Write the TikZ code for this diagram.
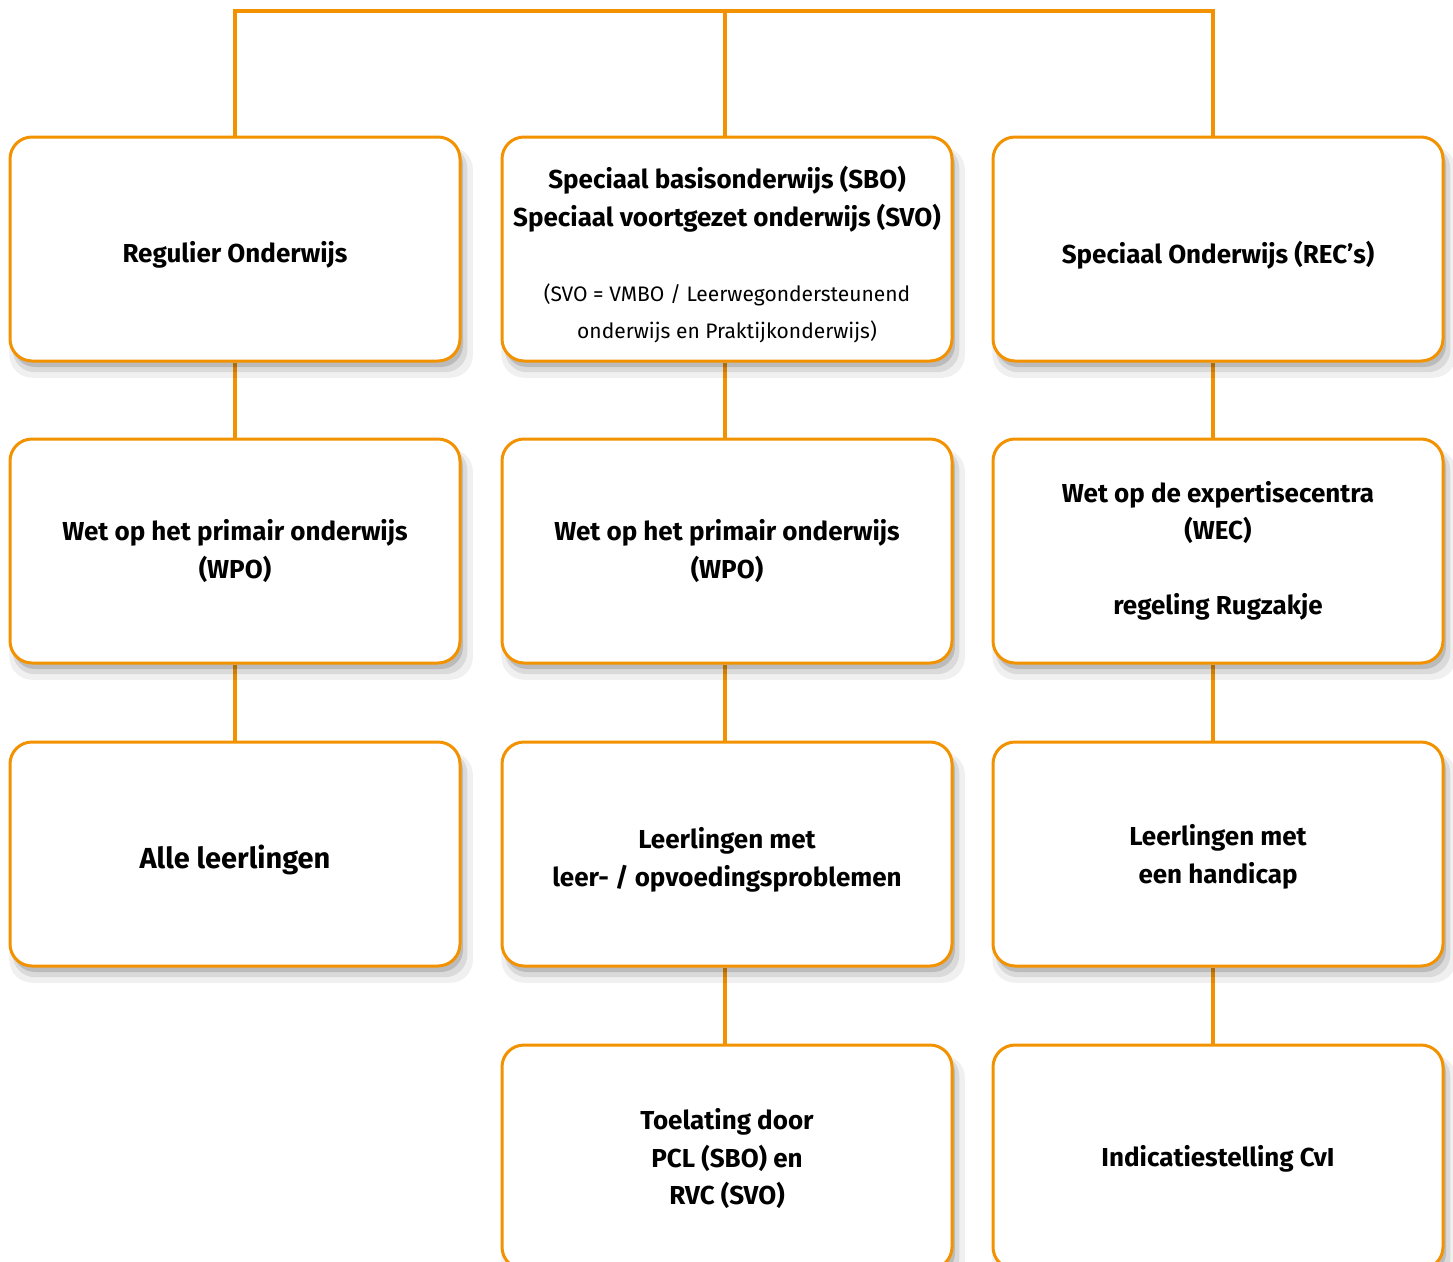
\documentclass[tikz,border=0pt]{standalone}
\usepackage{fontspec}
\setmainfont{Fira Sans}
\usetikzlibrary{shadows,backgrounds}
\definecolor{oranje}{HTML}{F39200}

\tikzset{
  blok/.style={draw=oranje, line width=3pt, rounded corners=22pt, fill=white,
    minimum width=450pt, minimum height=224pt, inner sep=0pt,
    drop shadow={shadow xshift=3pt, shadow yshift=-6pt, opacity=0.14, fill=black},
    drop shadow={shadow xshift=5pt, shadow yshift=-10pt, shadow scale=1.01, opacity=0.09, fill=black},
    drop shadow={shadow xshift=6pt, shadow yshift=-13pt, shadow scale=1.03, opacity=0.06, fill=black}},
  tekst/.style={inner sep=0pt, align=center, font=\fontsize{26}{37.5}\selectfont\bfseries},
  lijn/.style={draw=oranje, line width=4pt}
}
\newcommand{\klein}{\fontsize{21}{37.5}\selectfont\mdseries}

\begin{document}
\begin{tikzpicture}[x=1pt,y=-1pt]
\useasboundingbox (0,0) rectangle (1453,1261);
\clip (0,0) rectangle (1453,1261);

% rij 1
\node[blok] (r1a) at (235,249) {};
\node[tekst] (t1a) at ([yshift=-6pt]r1a) {Regulier Onderwijs};
\node[blok] (r1b) at (727,249) {};
\node[tekst] (t1b) at ([yshift=-6pt]r1b) {Speciaal basisonderwijs (SBO)\\Speciaal voortgezet onderwijs (SVO)\\[37.5pt]
  {\klein (SVO = VMBO / Leerwegondersteunend}\\
  {\klein onderwijs en Praktijkonderwijs)}};
\node[blok] (r1c) at (1218,249) {};
\node[tekst] (t1c) at ([yshift=-6pt]r1c) {Speciaal Onderwijs (REC's)};

% rij 2
\node[blok] (r2a) at (235,551) {};
\node[tekst] (t2a) at (r2a) {Wet op het primair onderwijs\\(WPO)};
\node[blok] (r2b) at (727,551) {};
\node[tekst] (t2b) at (r2b) {Wet op het primair onderwijs\\(WPO)};
\node[blok] (r2c) at (1218,551) {};
\node[tekst] (t2c) at (r2c) {Wet op de expertisecentra\\(WEC)\\[37.5pt]regeling Rugzakje};

% rij 3
\node[blok] (r3a) at (235,854) {};
\node[tekst, font=\fontsize{29}{37.5}\selectfont\bfseries] (t3a) at ([yshift=-6pt]r3a) {Alle leerlingen};
\node[blok] (r3b) at (727,854) {};
\node[tekst] (t3b) at ([yshift=-6pt]r3b) {Leerlingen met\\leer- / opvoedingsproblemen};
\node[blok] (r3c) at (1218,854) {};
\node[tekst] (t3c) at ([yshift=-3pt]r3c) {Leerlingen met\\een handicap};

% rij 4
\node[blok] (r4b) at (727,1157) {};
\node[tekst] (t4b) at ([yshift=-2pt]r4b) {Toelating door\\PCL (SBO) en\\RVC (SVO)};
\node[blok] (r4c) at (1218,1157) {};
\node[tekst] (t4c) at ([yshift=-2pt]r4c) {Indicatiestelling CvI};

% verbindingen
\begin{scope}[on background layer]
\coordinate (bar) at (725,11);
\draw[lijn] (r1a.north) |- (bar) -| ([xshift=-5pt]r1c.north);
\draw[lijn] ([xshift=-2pt]r1b.north) -- ([xshift=-2pt]r1b.north |- bar);
\draw[lijn] (r1a) -- (r2a);
\draw[lijn] (r2a) -- (r3a);
\draw[lijn] ([xshift=-2pt]r1b.south) -- ([xshift=-2pt]r2b.north);
\draw[lijn] ([xshift=-2pt]r2b.south) -- ([xshift=-2pt]r3b.north);
\draw[lijn] ([xshift=-2pt]r3b.south) -- ([xshift=-2pt]r4b.north);
\draw[lijn] ([xshift=-5pt]r1c.south) -- ([xshift=-5pt]r2c.north);
\draw[lijn] ([xshift=-5pt]r2c.south) -- ([xshift=-5pt]r3c.north);
\draw[lijn] ([xshift=-5pt]r3c.south) -- ([xshift=-5pt]r4c.north);
\end{scope}
\end{tikzpicture}
\end{document}
